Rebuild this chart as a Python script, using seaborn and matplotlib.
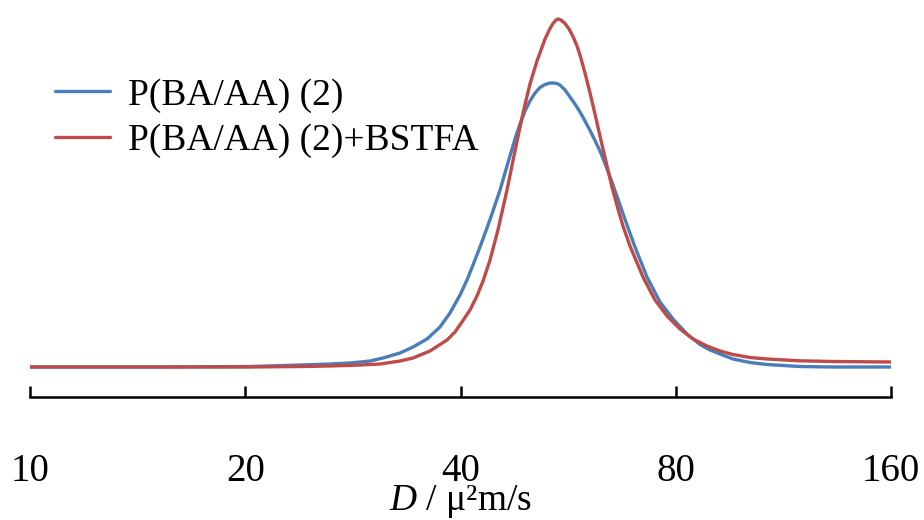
import matplotlib
matplotlib.use("Agg")
import matplotlib.pyplot as plt
from matplotlib.ticker import NullLocator
import seaborn as sns
import pandas as pd

# Diffusion coefficient D (µm²/s) and normalised signal intensity
d_plain = [10.0, 14.72, 20.31, 23.86, 26.28, 28.02, 29.89, 31.17, 32.92,
           34.33, 35.91, 37.44, 38.67, 39.94, 40.85, 41.64, 42.59, 43.56,
           44.41, 45.43, 46.16, 46.91, 47.67, 48.45, 49.23, 50.03, 50.85,
           51.67, 52.51, 53.36, 53.88, 54.58, 55.11, 56.00, 56.91, 57.83,
           58.77, 59.73, 60.70, 61.68, 62.68, 64.11, 65.36, 66.85, 68.38,
           70.16, 72.92, 76.04, 79.29, 82.95, 86.49, 89.33, 92.25, 96.19,
           101.60, 107.32, 119.34, 132.74, 160.0]
i_plain = [0.0, 0.0, 0.0014, 0.0057, 0.0086, 0.0115, 0.0172, 0.0259, 0.0402,
           0.0575, 0.0805, 0.1149, 0.1552, 0.2069, 0.2500, 0.2931, 0.3448,
           0.3994, 0.4483, 0.5086, 0.5575, 0.6063, 0.6552, 0.6983, 0.7356,
           0.7644, 0.7874, 0.8032, 0.8118, 0.8161, 0.8161, 0.8147, 0.8103,
           0.7960, 0.7759, 0.7557, 0.7328, 0.7069, 0.6796, 0.6509, 0.6207,
           0.5704, 0.5230, 0.4655, 0.4080, 0.3448, 0.2586, 0.1868, 0.1379,
           0.0948, 0.0647, 0.0489, 0.0374, 0.0230, 0.0129, 0.0072, 0.0014,
           0.0, 0.0]

d_bstfa = [10.0, 20.31, 23.86, 26.28, 28.94, 30.87, 32.92, 34.33, 36.26,
           38.30, 39.30, 40.19, 41.24, 42.18, 43.01, 43.99, 45.13, 46.46,
           47.67, 48.92, 50.03, 51.17, 52.51, 53.36, 53.88, 54.40, 54.75,
           55.28, 56.00, 56.73, 57.46, 58.21, 58.77, 59.73, 60.70, 61.68,
           62.68, 64.11, 65.15, 66.42, 67.50, 69.04, 71.99, 74.83, 77.78,
           81.10, 84.57, 88.47, 92.25, 96.19, 101.60, 107.32, 119.34, 132.74,
           160.0]
i_bstfa = [0.0, 0.0, 0.0014, 0.0029, 0.0057, 0.0086, 0.0172, 0.0259, 0.0460,
           0.0776, 0.1006, 0.1293, 0.1638, 0.2040, 0.2471, 0.3075, 0.3937,
           0.5086, 0.6207, 0.7299, 0.8132, 0.8793, 0.9425, 0.9727, 0.9871,
           0.9971, 1.0, 0.9971, 0.9871, 0.9713, 0.9497, 0.9224, 0.8966,
           0.8448, 0.7874, 0.7270, 0.6638, 0.5776, 0.5172, 0.4540, 0.4052,
           0.3477, 0.2586, 0.1925, 0.1466, 0.1092, 0.0805, 0.0603, 0.0460,
           0.0359, 0.0273, 0.0230, 0.0178, 0.0158, 0.0144]

series_names = ["P(BA/AA) (2)", "P(BA/AA) (2)+BSTFA"]
tick_values = [10, 20, 40, 80, 160]
tick_labels = ["10", "20", "40", "80", "160"]

df = pd.concat([
    pd.DataFrame({"D": d_plain, "I": i_plain, "sample": series_names[0]}),
    pd.DataFrame({"D": d_bstfa, "I": i_bstfa, "sample": series_names[1]}),
], ignore_index=True)

sns.set_theme(style="white")
plt.rcParams["font.family"] = ["Liberation Serif", "DejaVu Serif"]
plt.rcParams["mathtext.fontset"] = "custom"
plt.rcParams["mathtext.rm"] = "Liberation Serif"
plt.rcParams["mathtext.it"] = "Liberation Serif:italic"
plt.rcParams["text.color"] = "black"
plt.rcParams["axes.labelcolor"] = "black"

fig = plt.figure(figsize=(9.24, 5.20), dpi=100)
ax = fig.add_axes([30 / 924, 1 - 397 / 520, (891 - 30) / 924, (397 - 5) / 520])

palette = {series_names[0]: "#4A7EBB", series_names[1]: "#BE4B48"}
sns.lineplot(data=df, x="D", y="I", hue="sample", palette=palette,
             linewidth=2.4, sort=False, estimator=None, ax=ax)

ax.set_xscale("log", base=2)
ax.set_xlim(10, 160)
ax.set_ylim((367 - 397) / 348, (367 - 5) / 348)
ax.set_xticks(tick_values)
ax.set_xticklabels(tick_labels)
ax.xaxis.set_minor_locator(NullLocator())
ax.set_yticks([])
ax.set_ylabel("")
ax.set_xlabel(r"$D$ / μ²m/s", fontsize=27, color="black")
ax.xaxis.label.set_verticalalignment("baseline")
ax.xaxis.set_label_coords(0.5, (397 - 510) / 392)

for side in ("top", "right", "left"):
    ax.spines[side].set_visible(False)
ax.spines["bottom"].set_color("black")
ax.spines["bottom"].set_linewidth(1.8)
ax.tick_params(axis="x", direction="in", length=8, width=1.8, color="black",
               labelsize=28, pad=40, labelcolor="black", bottom=True)
ax.set_facecolor("white")

leg = ax.legend(loc="upper left", bbox_to_anchor=(55 / 924, 1 - 78 / 520),
                bbox_transform=fig.transFigure, frameon=False, fontsize=27,
                handlelength=1.47, handletextpad=0.48, labelspacing=0.3,
                borderpad=0, borderaxespad=0)
for line in leg.get_lines():
    line.set_linewidth(2.4)
for text in leg.get_texts():
    text.set_color("black")

fig.savefig("out.png", dpi=100, facecolor="white")
